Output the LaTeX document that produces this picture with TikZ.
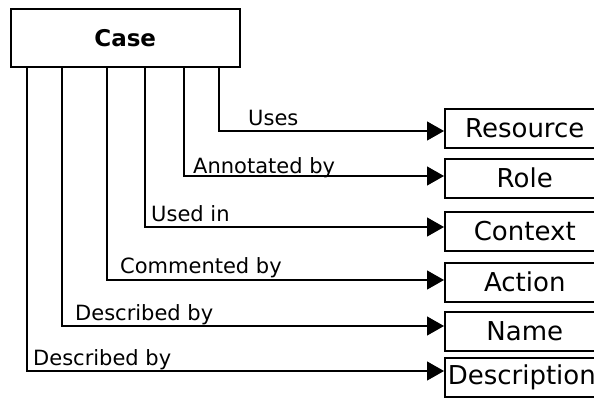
\documentclass[tikz,border=0pt]{standalone}
\usepackage{fontspec}
\setmainfont{DejaVu Sans}
\usetikzlibrary{arrows.meta}
\begin{document}
\begin{tikzpicture}[x=1pt,y=-1pt,
  rel/.style={draw=black,line width=1.2pt,
    -{Triangle[length=17pt,width=19pt]}},
  entity/.style={draw=black,line width=1.5pt,anchor=north west,
    minimum width=160pt,minimum height=39pt,inner sep=0pt,
    font=\fontsize{26}{30}\selectfont},
  rellabel/.style={anchor=base west,inner sep=0pt,
    font=\fontsize{21}{24}\selectfont}]
\useasboundingbox (0,0) rectangle (594,397);

% main entity
\node[draw=black,line width=1.5pt,anchor=north west,minimum width=229pt,
  minimum height=58pt,inner sep=0pt,font=\bfseries\fontsize{23}{27}\selectfont]
  (case) at (10,8) {Case};

% related entities
\node[entity] (res)  at (444,108) {Resource};
\node[entity] (role) at (444,158) {Role};
\node[entity] (ctx)  at (444,211) {Context};
\node[entity] (act)  at (444,262) {Action};
\node[entity] (nam)  at (444,311) {Name};
\node[entity,align=left,text width=154pt,inner xsep=3pt] (desc) at (444,357) {Description};

% attachment points of the connectors
\coordinate (x1) at (219,0);  \coordinate (y1) at (0,131);
\coordinate (x2) at (184,0);  \coordinate (y2) at (0,176);
\coordinate (x3) at (145,0);  \coordinate (y3) at (0,227);
\coordinate (x4) at (107,0);  \coordinate (y4) at (0,280);
\coordinate (x5) at (62,0);   \coordinate (y5) at (0,326);
\coordinate (x6) at (27,0);   \coordinate (y6) at (0,371);

\draw[rel] (case.south -| x1) |- (res.west  |- y1);
\draw[rel] (case.south -| x2) |- (role.west |- y2);
\draw[rel] (case.south -| x3) |- (ctx.west  |- y3);
\draw[rel] (case.south -| x4) |- (act.west  |- y4);
\draw[rel] (case.south -| x5) |- (nam.west  |- y5);
\draw[rel] (case.south -| x6) |- (desc.west |- y6);

% relation labels
\node[rellabel] (l1) at (248,125) {Uses};
\node[rellabel] (l2) at (193,173) {Annotated by};
\node[rellabel] (l3) at (151,221) {Used in};
\node[rellabel] (l4) at (120,273) {Commented by};
\node[rellabel] (l5) at (75,320)  {Described by};
\node[rellabel] (l6) at (33,365)  {Described by};
\end{tikzpicture}
\end{document}
